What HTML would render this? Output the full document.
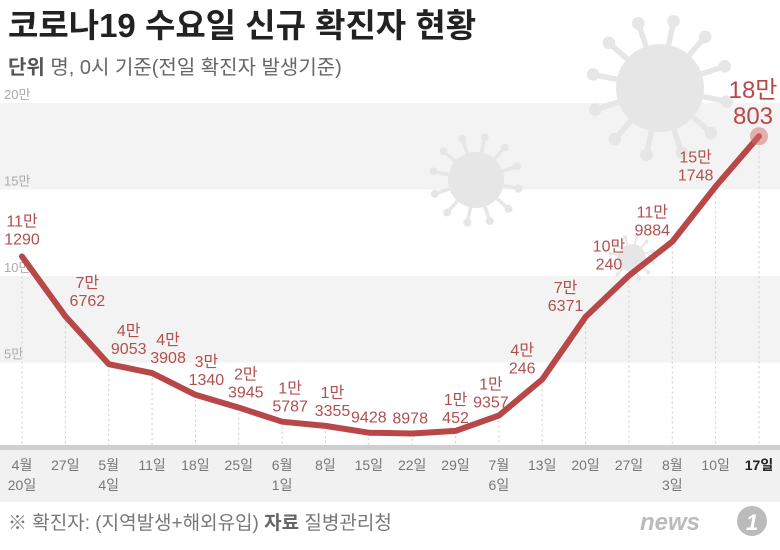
<!DOCTYPE html>
<html><head><meta charset="utf-8"><style>
body{margin:0;width:780px;height:550px;overflow:hidden;background:#fff;font-family:"Liberation Sans","Noto Sans CJK KR",sans-serif;}
svg{display:block}
</style></head><body>
<svg width="780" height="550" id="svg">
<text x="8" y="37" font-size="33" font-weight="bold" fill="#222" font-family="Liberation Sans, Noto Sans CJK KR, sans-serif">코로나19 수요일 신규 확진자 현황</text>
<text x="8" y="74" font-size="20" fill="#666" font-family="Liberation Sans, Noto Sans CJK KR, sans-serif"><tspan font-weight="bold" fill="#555">단위</tspan> 명, 0시 기준(전일 확진자 발생기준)</text>
<g id="bands"></g>
<g id="virus2" fill="#e6e6e6" stroke="#e6e6e6"></g>
<g id="grid"></g>
<rect x="0" y="450" width="780" height="52" fill="#f1f1f1"/>
<rect x="0" y="445" width="780" height="5" fill="#cfcfcf"/>
<g id="marks"></g>
<text x="8" y="529" font-size="19" fill="#777" font-family="Liberation Sans, Noto Sans CJK KR, sans-serif">※ 확진자: (지역발생+해외유입)  <tspan font-weight="bold" fill="#666">자료</tspan>  질병관리청</text>
<text x="640" y="530" font-size="24" font-style="italic" font-weight="bold" fill="#bbb">news</text>
<circle cx="752" cy="521" r="15" fill="#bbb"/>
<text x="746" y="530" font-size="22" font-weight="bold" font-style="italic" fill="#fff">1</text>
</svg>
<script>
const dates1=["4월","27일","5월","11일","18일","25일","6월","8일","15일","22일","29일","7월","13일","20일","27일","8월","10일","17일"];
const dates2=["20일","","4일","","","","1일","","","","","6일","","","","3일","",""];
const values=[111290,76762,49053,43908,31340,23945,15787,13355,9428,8978,10452,19357,40246,76371,100240,119884,151748,180803];
const labTop=["11만","7만","4만","4만","3만","2만","1만","1만","","","1만","1만","4만","7만","10만","11만","15만","18만"];
const labBot=["1290","6762","9053","3908","1340","3945","5787","3355","9428","8978","452","9357","246","6371","240","9884","1748","803"];
const yTicks=[50000,100000,150000,200000];
const yTickLabels=["5만","10만","15만","20만"];
const NS="http://www.w3.org/2000/svg";
const x0=22,x1=759,yBase=449,yPer=86.5/50000;
const X=i=>x0+i*(x1-x0)/(values.length-1);
const Y=v=>yBase-v*yPer;
function mk(t,a,p){const e=document.createElementNS(NS,t);for(const k in a)e.setAttribute(k,a[k]);(p||document.getElementById('marks')).appendChild(e);return e;}
const bands=document.getElementById('bands'),grid=document.getElementById('grid');
[[150000,200000],[50000,100000]].forEach(b=>{
 const r=mk('rect',{x:0,y:Y(b[1]),width:780,height:Y(b[0])-Y(b[1]),fill:'#f3f3f3'},bands);
 
 
});
yTicks.forEach((v,i)=>{
 const t=mk('text',{x:4,y:Y(v)-4,'font-size':13,fill:'#aaa'},grid);t.textContent=yTickLabels[i];
 
 
});
function virus(g,cx,cy,r){
 mk('circle',{cx:cx,cy:cy,r:r,stroke:'none'},g);
 for(let k=0;k<12;k++){const a=k*Math.PI/6+0.2;
  mk('line',{x1:cx+Math.cos(a)*r,y1:cy+Math.sin(a)*r,x2:cx+Math.cos(a)*r*1.5,y2:cy+Math.sin(a)*r*1.5,'stroke-width':r/8},g);
  mk('circle',{cx:cx+Math.cos(a)*r*1.55,cy:cy+Math.sin(a)*r*1.55,r:r/7,stroke:'none'},g);}
}
const v2=document.getElementById('virus2');
virus(v2,660,88,44);
virus(v2,476,180,28);virus(v2,632,258,14);
values.forEach((v,i)=>{
 const l=mk('line',{x1:X(i),y1:Y(v),x2:X(i),y2:445,stroke:'#ccc','stroke-dasharray':'2,3','stroke-width':1},grid);
 
 
 const last=i===values.length-1;
 const t=mk('text',{x:X(i),y:470,'font-size':14,fill:last?'#222':'#777','font-weight':last?'bold':'normal','text-anchor':'middle'});
 t.textContent=dates1[i];
 
 
 if(dates2[i]){const t2=mk('text',{x:X(i),y:490,'font-size':14,fill:'#777','text-anchor':'middle'});t2.textContent=dates2[i];
 
 }
});
const pts=values.map((v,i)=>X(i)+','+Y(v)).join(' ');
const pl=mk('polyline',{points:pts,fill:'none',stroke:'#b84848','stroke-width':6,'stroke-linejoin':'round','stroke-linecap':'round'});


const n=values.length-1;
const hl=mk('circle',{cx:X(n),cy:Y(values[n]),r:9,fill:'#d46a6a',opacity:0.5});


const dxs=[0,22,20,16,11,7,8,7,0,-2,0,-8,-20,-20,-20,-20,-20,-6];
values.forEach((v,i)=>{
 const last=i===n;
 let cx=X(i)+dxs[i], by=Y(v)-10;
 if(i===0){by=Y(v)-12;}
 if(i===10){by=Y(v)-8;}
 if(i===11){by=Y(v)-8;}
 if(i>=12&&i<n){by=Y(v)-6;}
 if(last){by=Y(v)-12;}
 const fs=last?24:16;
 const g=mk('text',{x:cx,y:by,'font-size':fs,fill:last?'#b84848':'#b05050','text-anchor':'middle'});
 
 
 if(labTop[i]){const a=mk('tspan',{x:cx,dy:-(fs+2)},g);a.textContent=labTop[i];const b=mk('tspan',{x:cx,dy:fs+2},g);b.textContent=labBot[i];}
 else{g.textContent=labBot[i];}
});
</script>
</body></html>
